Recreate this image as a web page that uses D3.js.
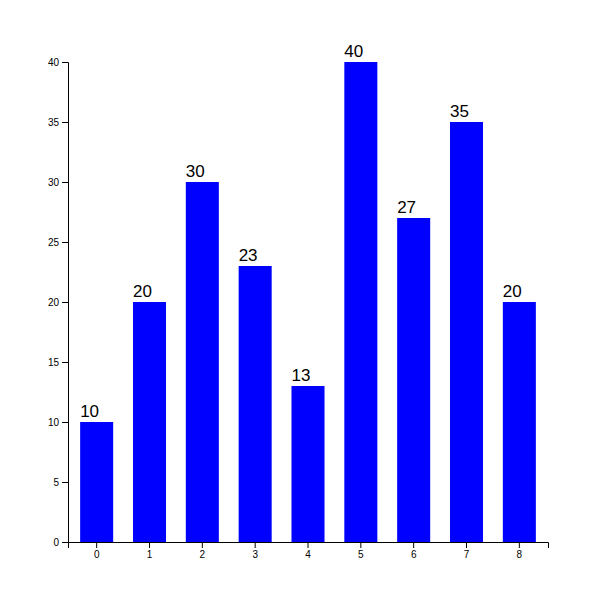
<!DOCTYPE html>
<html><head><meta charset="utf-8">
<script src="https://cdn.jsdelivr.net/npm/d3@7"></script>
<style>body{margin:0;background:#fff}</style>
</head><body>
<svg id="chart" width="613" height="603"></svg>
<script>
const categories = [0, 1, 2, 3, 4, 5, 6, 7, 8];
const values = [10, 20, 30, 23, 13, 40, 27, 35, 20];
const yTicks = [0, 5, 10, 15, 20, 25, 30, 35, 40];

const margin = {left: 68, top: 62};
const width = 480, height = 480;
const svg = d3.select("#chart");
const g = svg.append("g").attr("transform", `translate(${margin.left},${margin.top})`);

const x = d3.scaleBand().domain(categories).range([0, width]).paddingInner(0.375).paddingOuter(0.23);
const y = d3.scaleLinear().domain([0, 40]).range([height, 0]);

g.append("g").attr("transform", `translate(0,${height})`)
  .call(d3.axisBottom(x).tickSizeOuter(6))
  .attr("font-family", "Liberation Sans, Arial, sans-serif");
g.append("g")
  .call(d3.axisLeft(y).tickValues(yTicks))
  .attr("font-family", "Liberation Sans, Arial, sans-serif");

g.selectAll("rect.bar").data(values).join("rect")
  .attr("class", "bar")
  .attr("x", (d, i) => x(categories[i]))
  .attr("y", d => y(d))
  .attr("width", x.bandwidth())
  .attr("height", d => height - y(d))
  .attr("fill", "#0000ff");

g.selectAll("text.lbl").data(values).join("text")
  .attr("class", "lbl")
  .attr("x", (d, i) => x(categories[i]))
  .attr("y", d => y(d) - 5)
  .attr("font-family", "Liberation Sans, Arial, sans-serif")
  .attr("font-size", 17)
  .attr("fill", "#000")
  .text(d => d);
</script>
</body></html>
